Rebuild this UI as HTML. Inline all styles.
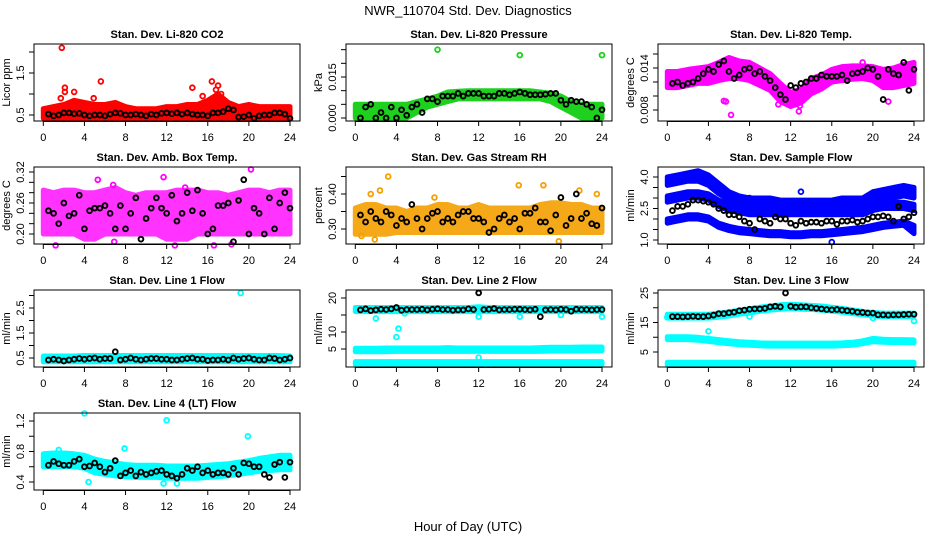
<!DOCTYPE html>
<html><head><meta charset="utf-8"><style>
html,body{margin:0;padding:0;background:#fff;}
svg{display:block;font-family:"Liberation Sans",sans-serif;}
</style></head><body>
<svg id="chart" width="936" height="540" viewBox="0 0 936 540" xmlns="http://www.w3.org/2000/svg">
<text x="468" y="15" text-anchor="middle" font-size="13">NWR_110704  Std. Dev. Diagnostics</text>
<text x="468" y="531" text-anchor="middle" font-size="13">Hour of Day (UTC)</text>
</svg>
<script>
// shared
const bandHours = [0,1,2,3,4,5,6,7,8,9,10,11,12,13,14,15,16,17,18,19,20,21,22,23,24];
const blackHours = [0.5,1,1.5,2,2.5,3,3.5,4,4.5,5,5.5,6,6.5,7,7.5,8,8.5,9,9.5,10,10.5,11,11.5,12,12.5,13,13.5,14,14.5,15,15.5,16,16.5,17,17.5,18,18.5,19,19.5,20,20.5,21,21.5,22,22.5,23,23.5,24];
const xTicks = [0,4,8,12,16,20,24];

// P1 CO2
const co2Low = [0.42,0.42,0.42,0.42,0.42,0.42,0.42,0.42,0.42,0.42,0.42,0.42,0.42,0.42,0.42,0.42,0.42,0.42,0.42,0.42,0.42,0.42,0.42,0.42,0.42];
const co2High = [0.65,0.7,0.75,0.85,0.8,0.75,0.75,0.8,0.7,0.65,0.65,0.65,0.7,0.7,0.75,0.75,0.85,1.0,0.8,0.7,0.75,0.7,0.7,0.7,0.7];
const co2OutX = [1.8,2.1,2.1,5.6,14.5,16.4,17,1.7,3,4.9,15.5,16.8,17.3];
const co2OutY = [2.1,1.15,1.05,1.3,1.15,1.3,1.2,0.9,1.05,0.9,0.95,1.1,1.0];
const co2Black = [0.52,0.48,0.5,0.55,0.55,0.53,0.54,0.5,0.48,0.5,0.5,0.48,0.52,0.55,0.54,0.5,0.5,0.52,0.5,0.48,0.52,0.5,0.54,0.55,0.53,0.55,0.52,0.55,0.52,0.5,0.5,0.48,0.55,0.55,0.58,0.65,0.62,0.45,0.46,0.5,0.42,0.48,0.5,0.5,0.55,0.55,0.52,0.42];
// P2 Pressure
const presLow = [0,0,0,0,0,0,0.002,0.004,0.005,0.006,0.007,0.007,0.007,0.007,0.007,0.007,0.007,0.007,0.007,0.006,0.004,0.002,0,0,0];
const presHigh = [0.005,0.005,0.005,0.005,0.005,0.005,0.006,0.007,0.008,0.0095,0.0098,0.01,0.01,0.01,0.01,0.01,0.01,0.01,0.0095,0.009,0.008,0.006,0.005,0.005,0.005];
const presOutX = [8,16,24];
const presOutY = [0.025,0.023,0.023];
const presBlack = [0,0.004,0.005,0,0.002,0,0.004,0,0.003,0.001,0.004,0.005,0.002,0.007,0.007,0.006,0.008,0.008,0.008,0.009,0.008,0.009,0.009,0.009,0.008,0.008,0.008,0.009,0.009,0.0085,0.009,0.0095,0.009,0.0085,0.0085,0.0085,0.0087,0.009,0.009,0.0065,0.005,0.0065,0.006,0.006,0.005,0.004,0,0.003];
// P3 Temp
const tempLow = [0.0112,0.0112,0.0115,0.0118,0.0118,0.0122,0.0125,0.0125,0.0122,0.0115,0.0108,0.0092,0.0085,0.009,0.0103,0.011,0.012,0.0122,0.0124,0.0125,0.0122,0.0112,0.0112,0.0115,0.0118];
const tempHigh = [0.0135,0.0135,0.0138,0.014,0.0142,0.0148,0.0155,0.015,0.0148,0.014,0.0132,0.0118,0.0105,0.011,0.0125,0.013,0.0138,0.0142,0.0143,0.0143,0.0142,0.0138,0.014,0.0145,0.0148];
const tempOutX = [5.5,5.7,6.2,12.9,12.8,10.8,21.5,19,0.2];
const tempOutY = [0.0093,0.0092,0.0073,0.0086,0.0078,0.0088,0.0092,0.0148,0.0115];
const tempBlack = [0.0118,0.012,0.0115,0.0118,0.012,0.0125,0.0132,0.0138,0.0135,0.0145,0.015,0.0135,0.0125,0.013,0.0138,0.014,0.0132,0.0135,0.0128,0.0122,0.0112,0.0102,0.0095,0.0115,0.0112,0.0118,0.012,0.0125,0.0125,0.013,0.0128,0.0128,0.0128,0.013,0.0122,0.0132,0.0133,0.0135,0.014,0.0138,0.0128,0.0095,0.0138,0.0132,0.013,0.0148,0.0108,0.0138];
// P4 Amb box temp
const boxLow = [0.2,0.2,0.2,0.2,0.19,0.19,0.2,0.2,0.2,0.2,0.2,0.2,0.19,0.19,0.19,0.2,0.2,0.2,0.2,0.2,0.2,0.2,0.2,0.2,0.2];
const boxHigh = [0.285,0.28,0.285,0.285,0.28,0.28,0.285,0.29,0.28,0.275,0.28,0.28,0.28,0.285,0.285,0.285,0.28,0.28,0.275,0.28,0.285,0.285,0.28,0.285,0.285];
const boxOutX = [5.3,6.8,11.7,20.2,13.8,1.2,16.6,18.3,6.9,12.8];
const boxOutY = [0.305,0.295,0.31,0.325,0.29,0.178,0.178,0.18,0.185,0.178];
const boxBlack = [0.245,0.24,0.22,0.26,0.235,0.24,0.275,0.21,0.245,0.25,0.25,0.255,0.24,0.21,0.255,0.21,0.24,0.27,0.19,0.23,0.25,0.27,0.25,0.24,0.275,0.225,0.24,0.28,0.245,0.285,0.24,0.2,0.21,0.255,0.255,0.26,0.185,0.265,0.305,0.2,0.25,0.24,0.2,0.27,0.21,0.26,0.28,0.25];
// P5 RH
const rhLow = [0.285,0.285,0.285,0.285,0.29,0.29,0.29,0.29,0.29,0.29,0.29,0.29,0.29,0.29,0.29,0.29,0.29,0.29,0.29,0.29,0.29,0.29,0.29,0.29,0.29];
const rhHigh = [0.36,0.37,0.37,0.36,0.36,0.35,0.36,0.36,0.37,0.37,0.36,0.36,0.37,0.36,0.36,0.36,0.36,0.36,0.37,0.375,0.375,0.37,0.37,0.36,0.36];
const rhOutX = [3.2,1.5,2.4,7.7,15.9,18.3,21.8,0.6,1.9,19.8,23.5];
const rhOutY = [0.45,0.4,0.41,0.39,0.425,0.425,0.41,0.28,0.27,0.265,0.4];
const rhBlack = [0.34,0.32,0.35,0.33,0.32,0.35,0.34,0.31,0.33,0.32,0.37,0.33,0.3,0.33,0.345,0.35,0.32,0.33,0.32,0.34,0.35,0.35,0.33,0.33,0.32,0.29,0.3,0.33,0.34,0.32,0.33,0.30,0.345,0.345,0.36,0.32,0.32,0.295,0.34,0.39,0.31,0.33,0.4,0.33,0.345,0.315,0.31,0.36];
// P6 Sample flow (three bands)
const sfTopLow = [3.6,3.7,3.8,3.8,3.6,3.2,2.9,2.7,2.6,2.6,2.6,2.5,2.5,2.5,2.5,2.5,2.5,2.5,2.5,2.5,2.8,2.9,3.0,3.1,3.0];
const sfTopHigh = [4.0,4.1,4.2,4.3,4.1,3.7,3.3,3.1,3.0,3.0,3.0,2.9,2.9,2.9,2.9,2.9,2.9,3.0,3.0,3.0,3.3,3.4,3.5,3.6,3.5];
const sfMidLow = [2.8,2.9,3.0,3.0,2.9,2.6,2.4,2.3,2.2,2.2,2.2,2.2,2.2,2.2,2.2,2.2,2.2,2.2,2.2,2.2,2.4,2.5,2.5,2.5,2.4];
const sfMidHigh = [3.1,3.2,3.3,3.3,3.2,2.9,2.7,2.6,2.5,2.5,2.5,2.5,2.5,2.5,2.5,2.5,2.5,2.5,2.5,2.5,2.7,2.8,2.8,2.8,2.7];
const sfLowLow = [1.8,1.9,2.0,2.0,1.9,1.6,1.45,1.35,1.3,1.25,1.2,1.2,1.15,1.15,1.2,1.2,1.25,1.3,1.35,1.4,1.5,1.6,1.65,1.7,1.3];
const sfLowHigh = [2.0,2.1,2.2,2.2,2.1,1.8,1.65,1.55,1.5,1.45,1.4,1.4,1.35,1.35,1.4,1.4,1.45,1.5,1.55,1.6,1.7,1.8,1.85,1.9,1.7];
const sfOutX = [16,8,13];
const sfOutY = [0.9,3.0,3.3];
const sfBlack = [2.4,2.6,2.6,2.7,2.9,2.9,2.85,2.8,2.7,2.5,2.4,2.2,2.2,2.1,1.9,1.8,1.5,2.0,1.9,1.8,2.1,2.0,2.0,1.8,1.7,1.9,1.8,1.85,1.85,1.8,1.9,1.9,1.75,1.9,1.9,1.95,1.85,1.9,2.0,2.1,2.1,2.15,2.1,1.9,2.6,2.0,2.1,2.3];
// P7 Line 1
const l1Low = [0.35,0.35,0.35,0.35,0.35,0.35,0.35,0.35,0.35,0.35,0.35,0.35,0.35,0.35,0.35,0.35,0.35,0.35,0.35,0.35,0.35,0.35,0.35,0.35,0.35];
const l1High = [0.58,0.58,0.58,0.58,0.6,0.6,0.6,0.6,0.6,0.6,0.6,0.6,0.6,0.6,0.6,0.6,0.6,0.6,0.6,0.6,0.6,0.6,0.6,0.6,0.58];
const l1OutX = [19.2];
const l1OutY = [3.1];
const l1Black = [0.42,0.45,0.42,0.38,0.42,0.45,0.48,0.45,0.48,0.5,0.45,0.48,0.48,0.75,0.42,0.45,0.5,0.45,0.42,0.45,0.48,0.48,0.45,0.45,0.42,0.42,0.45,0.48,0.5,0.45,0.45,0.4,0.42,0.42,0.45,0.42,0.5,0.45,0.48,0.5,0.45,0.42,0.42,0.5,0.48,0.42,0.45,0.5];
// P8 Line 2
const l2TopLow = [16,16,16,16,16,16,16,16,16,16,16,16,16,16,16,16,16,16,16,16,16,16,16,16,16];
const l2TopHigh = [17.2,17.2,17.2,17.2,17.2,17.2,17.2,17.2,17.2,17.2,17.2,17.2,17.4,17.2,17.2,17.2,17.2,17.2,17.2,17.2,17.2,17.2,17.2,17.2,17.2];
const l2MidLow = [4.2,4.2,4.2,4.2,4.3,4.3,4.3,4.3,4.3,4.3,4.3,4.3,4.3,4.3,4.3,4.3,4.3,4.3,4.3,4.4,4.4,4.4,4.4,4.5,4.5];
const l2MidHigh = [5.2,5.2,5.2,5.3,5.3,5.3,5.3,5.3,5.3,5.4,5.3,5.3,5.3,5.3,5.3,5.3,5.3,5.3,5.4,5.5,5.5,5.5,5.6,5.6,5.6];
const l2BotLow = [0.5,0.5,0.5,0.5,0.5,0.5,0.5,0.5,0.5,0.5,0.5,0.5,0.5,0.5,0.5,0.5,0.5,0.5,0.5,0.5,0.5,0.5,0.5,0.5,0.5];
const l2BotHigh = [1.3,1.3,1.3,1.3,1.3,1.3,1.3,1.3,1.3,1.3,1.3,1.3,1.3,1.3,1.3,1.3,1.3,1.3,1.3,1.3,1.3,1.3,1.3,1.3,1.3];
const l2OutX = [4,4.2,12,12,24,2,16,20,4.8];
const l2OutY = [8.5,11,2.5,14.5,14.5,14,14.5,15,15.5];
const l2Black = [16.5,16.8,16.3,16.5,16.7,16.6,16.8,17.2,16.4,16.6,16.6,16.6,16.7,16.5,16.7,16.8,16.6,16.6,16.4,16.5,16.5,16.8,16.6,21.5,16.6,16.7,16.9,16.5,16.6,16.6,16.7,16.7,16.6,16.5,16.7,14.5,16.5,16.6,16.5,16.7,16.6,16.1,16.7,16.6,16.6,16.5,16.6,16.6];
// P9 Line 3
const l3TopLow = [16.5,16.5,16.5,16.5,16.5,16.8,17.2,17.8,18.2,18.8,19.2,19.5,19.7,19.5,19.4,19.2,18.8,18.5,18,17.6,17.2,17,17,17,17];
const l3TopHigh = [17.8,17.8,17.8,17.8,17.8,18.2,18.6,19.2,19.6,20.2,20.6,21,21.2,21,20.8,20.6,20.2,19.8,19.3,18.8,18.4,18.2,18.2,18.2,18.2];
const l3MidLow = [9.2,9.2,9.2,9,8.6,8.2,7.8,7.5,7.3,7.1,7,7,7,7,7,7,7,7.1,7.3,7.8,8.5,8.3,8.2,8.2,8.1];
const l3MidHigh = [10.2,10.2,10.2,10,9.6,9.2,8.8,8.5,8.3,8.1,8,8,8,8,8,8,8,8.1,8.3,8.8,9.6,9.3,9.2,9.2,9.1];
const l3BotLow = [0.6,0.6,0.6,0.6,0.6,0.6,0.6,0.6,0.6,0.6,0.6,0.6,0.6,0.6,0.6,0.6,0.6,0.6,0.6,0.6,0.6,0.6,0.6,0.6,0.6];
const l3BotHigh = [1.5,1.5,1.5,1.5,1.5,1.5,1.5,1.5,1.5,1.5,1.5,1.5,1.5,1.5,1.5,1.5,1.5,1.5,1.5,1.5,1.5,1.5,1.5,1.5,1.5];
const l3OutX = [4,24,0,20,8];
const l3OutY = [12,15.5,16.8,16.5,17];
const l3Black = [17,17,16.9,17,17.1,17,17,17.2,17.5,18,18,18.3,18.5,19,19.2,19.5,19.6,19.6,19.8,20.3,20.5,20.3,25,20.5,20.2,20.3,20.3,20,19.8,19.6,19.4,19.3,19.4,19.2,19,18.8,18.5,18.4,18.2,18.2,17.6,17.6,17.5,17.6,17.6,17.7,17.8,17.8];
// P10 Line 4
const l4Low = [0.6,0.6,0.6,0.6,0.58,0.52,0.5,0.48,0.47,0.46,0.46,0.46,0.45,0.45,0.45,0.45,0.46,0.47,0.48,0.5,0.52,0.54,0.55,0.56,0.56];
const l4High = [0.77,0.78,0.78,0.77,0.75,0.7,0.67,0.65,0.63,0.62,0.62,0.62,0.61,0.61,0.61,0.61,0.62,0.63,0.64,0.66,0.68,0.71,0.73,0.75,0.75];
const l4OutX = [4,12,19.9,7.9,1.5,4.4,11.7,13];
const l4OutY = [1.3,1.21,1.0,0.84,0.82,0.4,0.38,0.38];
const l4Black = [0.62,0.67,0.64,0.62,0.62,0.67,0.7,0.6,0.61,0.65,0.6,0.53,0.58,0.68,0.48,0.52,0.55,0.48,0.53,0.5,0.52,0.54,0.55,0.5,0.48,0.45,0.5,0.58,0.55,0.6,0.52,0.55,0.5,0.52,0.52,0.5,0.58,0.5,0.65,0.64,0.6,0.6,0.5,0.46,0.63,0.66,0.46,0.66];

const NS = "http://www.w3.org/2000/svg";
const svg = document.getElementById('chart');
function mk(tag, attrs, parent){
  const e = document.createElementNS(NS, tag);
  for (const k in attrs) e.setAttribute(k, attrs[k]);
  (parent||svg).appendChild(e);
  return e;
}
const panels = [
 {name:'co2', title:'Stan. Dev. Li-820 CO2', ylab:'Licor ppm', col:0,row:0, ref:[0.5,115,1.5,73], ticks:[0.5,1,1.5,2], labels:{'0.5':'0.5','1.5':'1.5'}, color:'#ff0000', op:1, bands:[[co2Low,co2High]], ox:co2OutX, oy:co2OutY, black:co2Black},
 {name:'pressure', title:'Stan. Dev. Li-820 Pressure', ylab:'kPa', col:1,row:0, ref:[0,118,0.015,77], ticks:[0,0.005,0.01,0.015,0.02,0.025], labels:{'0':'0.000','0.015':'0.015'}, color:'#1fd11f', op:1, bands:[[presLow,presHigh]], ox:presOutX, oy:presOutY, black:presBlack},
 {name:'li820-temp', title:'Stan. Dev. Li-820 Temp.', ylab:'degrees C', col:2,row:0, ref:[0.008,110,0.014,68], ticks:[0.008,0.01,0.012,0.014,0.016], labels:{'0.008':'0.008','0.014':'0.014'}, color:'#ff00ff', op:1, bands:[[tempLow,tempHigh]], ox:tempOutX, oy:tempOutY, black:tempBlack},
 {name:'amb-box-temp', title:'Stan. Dev. Amb. Box Temp.', ylab:'degrees C', col:0,row:1, ref:[0.2,234,0.32,172], ticks:[0.2,0.22,0.24,0.26,0.28,0.3,0.32], labels:{'0.2':'0.20','0.26':'0.26','0.32':'0.32'}, color:'#ff00ff', op:0.8, bands:[[boxLow,boxHigh]], ox:boxOutX, oy:boxOutY, black:boxBlack},
 {name:'gas-rh', title:'Stan. Dev. Gas Stream RH', ylab:'percent', col:1,row:1, ref:[0.3,229,0.4,194], ticks:[0.3,0.35,0.4,0.45], labels:{'0.3':'0.30','0.4':'0.40'}, color:'#f5a000', op:0.9, bands:[[rhLow,rhHigh]], ox:rhOutX, oy:rhOutY, black:rhBlack},
 {name:'sample-flow', title:'Stan. Dev. Sample Flow', ylab:'ml/min', col:2,row:1, ref:[1,240,4,177], ticks:[1,1.5,2,2.5,3,3.5,4], labels:{'1':'1.0','2.5':'2.5','4':'4.0'}, color:'#0000ff', op:1, bands:[[sfTopLow,sfTopHigh],[sfMidLow,sfMidHigh],[sfLowLow,sfLowHigh]], ox:sfOutX, oy:sfOutY, black:sfBlack},
 {name:'line1-flow', title:'Stan. Dev. Line 1 Flow', ylab:'ml/min', col:0,row:2, ref:[0.5,358,2.5,308], ticks:[0.5,1,1.5,2,2.5,3], labels:{'0.5':'0.5','1.5':'1.5','2.5':'2.5'}, color:'#00ffff', op:1, bands:[[l1Low,l1High]], ox:l1OutX, oy:l1OutY, black:l1Black},
 {name:'line2-flow', title:'Stan. Dev. Line 2 Flow', ylab:'ml/min', col:1,row:2, ref:[5,349,20,298], ticks:[5,10,15,20], labels:{'5':'5','10':'10','20':'20'}, color:'#00ffff', op:1, bands:[[l2TopLow,l2TopHigh],[l2MidLow,l2MidHigh],[l2BotLow,l2BotHigh]], ox:l2OutX, oy:l2OutY, black:l2Black},
 {name:'line3-flow', title:'Stan. Dev. Line 3 Flow', ylab:'ml/min', col:2,row:2, ref:[5,352,25,293], ticks:[5,10,15,20,25], labels:{'5':'5','15':'15','25':'25'}, color:'#00ffff', op:1, bands:[[l3TopLow,l3TopHigh],[l3MidLow,l3MidHigh],[l3BotLow,l3BotHigh]], ox:l3OutX, oy:l3OutY, black:l3Black},
 {name:'line4-flow', title:'Stan. Dev. Line 4 (LT) Flow', ylab:'ml/min', col:0,row:3, ref:[0.4,482,1.2,421], ticks:[0.4,0.6,0.8,1,1.2], labels:{'0.4':'0.4','0.8':'0.8','1.2':'1.2'}, color:'#00ffff', op:1, bands:[[l4Low,l4High]], ox:l4OutX, oy:l4OutY, black:l4Black}
];

panels.forEach(p => {
  const left = 34 + 312*p.col, right = left + 266;
  const top = 44 + 123*p.row, bottom = top + 77;
  const x0 = left + 9.3, x24 = left + 256;
  const xs = h => x0 + (x24 - x0) * h / 24;
  const ys = v => p.ref[1] + (v - p.ref[0]) * (p.ref[3] - p.ref[1]) / (p.ref[2] - p.ref[0]);
  const g = mk('g', {});
  
  
  const t = mk('text', {x:(left+right)/2, y:top-6, 'text-anchor':'middle', 'font-size':'11', 'font-weight':'bold'}, g);
  t.textContent = p.title;
  
  
  p.bands.forEach((b, bi) => {
    let d = '';
    bandHours.forEach((h, i) => { d += (i ? 'L' : 'M') + xs(h).toFixed(1) + ',' + ys(b[1][i]).toFixed(1); });
    for (let i = bandHours.length - 1; i >= 0; i--) d += 'L' + xs(bandHours[i]).toFixed(1) + ',' + ys(b[0][i]).toFixed(1);
    const path = mk('path', {d: d + 'Z', fill: p.color, stroke: p.color, 'stroke-width': '5', 'stroke-linejoin': 'round', opacity: p.op}, g);
    
    
  });
  p.ox.forEach((h, i) => {
    const c = mk('circle', {cx: xs(h), cy: ys(p.oy[i]), r: 2.4, fill: 'none', stroke: p.color, 'stroke-width': 1.8}, g);
    
    
  });
  p.black.forEach((v, i) => {
    const c = mk('circle', {cx: xs(blackHours[i]), cy: ys(v), r: 2.4, fill: 'none', stroke: '#000', 'stroke-width': 1.9}, g);
    
    
  });
  const box = mk('rect', {x:left, y:top, width:right-left, height:bottom-top, fill:'none', stroke:'#000', 'stroke-width':1}, g);
  
  
  const xa = mk('g', {}, g);
  
  
  mk('line', {x1:xs(0), x2:xs(24), y1:bottom+0.5, y2:bottom+0.5, stroke:'#000'}, xa);
  xTicks.forEach(h => {
    mk('line', {x1:xs(h), x2:xs(h), y1:bottom, y2:bottom+5, stroke:'#000'}, xa);
    const tl = mk('text', {x:xs(h), y:bottom+20, 'text-anchor':'middle', 'font-size':'11'}, xa);
    tl.textContent = h;
    
    
  });
  const ya = mk('g', {}, g);
  
  
  p.ticks.forEach(v => {
    const y = ys(v);
    mk('line', {x1:left-5, x2:left, y1:y, y2:y, stroke:'#000'}, ya);
    const key = String(v);
    if (p.labels[key] !== undefined) {
      const tl = mk('text', {x:left-10, y:y, 'text-anchor':'middle', 'font-size':'11', transform:'rotate(-90 ' + (left-10) + ' ' + y + ')'}, ya);
      tl.textContent = p.labels[key];
      
      
    }
  });
  const yl = mk('text', {x:left-24, y:(top+bottom)/2, 'text-anchor':'middle', 'font-size':'11', transform:'rotate(-90 ' + (left-24) + ' ' + ((top+bottom)/2) + ')'}, ya);
  yl.textContent = p.ylab;
  
  
});
</script>
</body></html>
